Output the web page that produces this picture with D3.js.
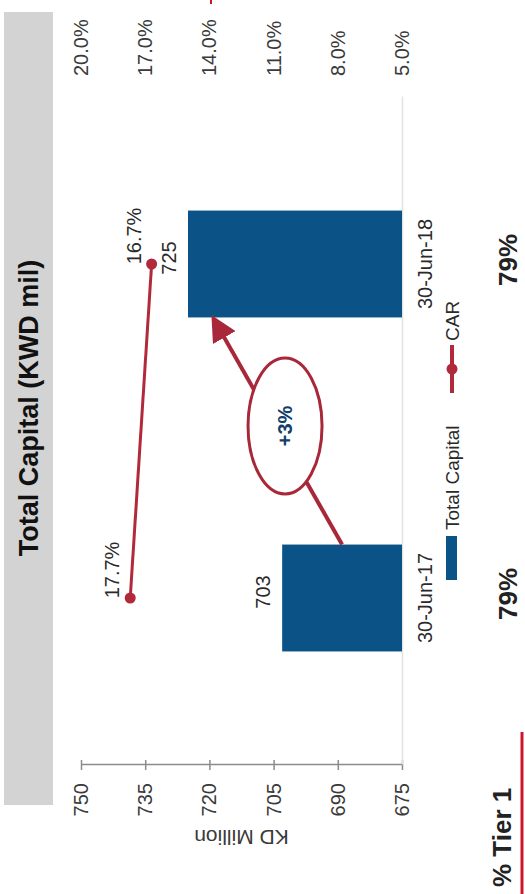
<!DOCTYPE html>
<html>
<head>
<meta charset="utf-8">
<script src="https://cdn.jsdelivr.net/npm/d3@7"></script>
<style>
  body { margin: 0; background: #fff; }
  svg { display: block; font-family: "Liberation Sans", Arial, sans-serif; }
</style>
</head>
<body>
<svg id="chart"></svg>
<script>
const categories = ["30-Jun-17", "30-Jun-18"];
const totalCapital = [703, 725];
const car = [17.7, 16.7];
const tier1 = ["79%", "79%"];
const capitalTicks = [675, 690, 705, 720, 735, 750];
const carTicks = [5, 8, 11, 14, 17, 20];
const growthLabel = "+3%";

// the page shows the chart turned a quarter turn, so draw it flat and rotate
const pageW = 525;
const pageH = 894;

const blue = "#0b5386";
const red = "#b12a3b";

const svg = d3.select("#chart")
  .attr("width", pageW)
  .attr("height", pageH);

const g = svg.append("g")
  .attr("transform", `translate(0, ${pageH}) rotate(-90)`);

//scales
const plotLeft = 129, plotRight = 797, plotTop = 81, plotBottom = 402;

const xScale = d3.scaleBand()
  .domain(categories)
  .range([plotLeft, plotRight])
  .paddingInner(0.68)
  .paddingOuter(0.34);
const yScale = d3.scaleLinear()
  .domain([675, 750])
  .range([plotBottom, plotTop]);
const y2Scale = d3.scaleLinear()
  .domain([5, 20])
  .range([plotBottom, plotTop]);

//title band
g.append("rect")
  .attr("x", 89)
  .attr("y", 4)
  .attr("width", 793)
  .attr("height", 49)
  .attr("fill", "#d3d3d3");
g.append("text")
  .attr("x", 486)
  .attr("y", 38)
  .attr("text-anchor", "middle")
  .style("font-size", "27px")
  .style("font-weight", "bold")
  .attr("fill", "#111")
  .text("Total Capital (KWD mil)");

//axes
const yAxis = d3.axisLeft(yScale)
  .tickValues(capitalTicks)
  .tickSize(0)
  .tickPadding(18);
const yAxisG = g.append("g")
  .attr("transform", `translate(${plotLeft}, 0)`)
  .call(yAxis);
yAxisG.select(".domain").attr("stroke", "#8c8c8c").attr("stroke-width", 1.5);
yAxisG.selectAll(".tick line")
  .attr("x1", -5).attr("x2", 5)
  .attr("stroke", "#8c8c8c").attr("stroke-width", 1.5);
yAxisG.selectAll("text")
  .style("font-size", "20px")
  .attr("fill", "#3a3a3a");

g.append("text")
  .attr("transform", `translate(64, ${(plotTop + plotBottom) / 2}) rotate(-90)`)
  .attr("text-anchor", "middle")
  .style("font-size", "21px")
  .attr("fill", "#3a3a3a")
  .text("KD Million");

const y2Axis = d3.axisRight(y2Scale)
  .tickValues(carTicks)
  .tickFormat((d) => d3.format(".1f")(d) + "%")
  .tickSize(0)
  .tickPadding(21);
const y2AxisG = g.append("g")
  .attr("transform", `translate(${plotRight}, 0)`)
  .call(y2Axis);
y2AxisG.select(".domain").remove();
y2AxisG.selectAll("text")
  .style("font-size", "20px")
  .attr("fill", "#3a3a3a");

const xAxis = d3.axisBottom(xScale)
  .tickSize(0)
  .tickPadding(16);
const xAxisG = g.append("g")
  .attr("transform", `translate(0, ${plotBottom})`)
  .call(xAxis);
xAxisG.select(".domain").attr("stroke", "#e2e2e2").attr("stroke-width", 1.5);
xAxisG.selectAll("text")
  .style("font-size", "20px")
  .attr("fill", "#2a2a2a");

//bars
g.selectAll("rect.bar")
  .data(totalCapital)
  .enter()
  .append("rect")
  .attr("class", "bar")
  .attr("x", (d, i) => xScale(categories[i]))
  .attr("y", (d) => yScale(d))
  .attr("width", xScale.bandwidth())
  .attr("height", (d) => plotBottom - yScale(d))
  .attr("fill", blue);

g.selectAll("text.barLabel")
  .data(totalCapital)
  .enter()
  .append("text")
  .attr("class", "barLabel")
  .attr("x", (d, i) => xScale(categories[i]) + xScale.bandwidth() / 2 + 6)
  .attr("y", (d) => yScale(d) - 12)
  .attr("text-anchor", "middle")
  .style("font-size", "20px")
  .attr("fill", "#2a2a2a")
  .text((d) => d);

//CAR line
const cx = (i) => xScale(categories[i]) + xScale.bandwidth() / 2;
const line = d3.line()
  .x((d, i) => cx(i))
  .y((d) => y2Scale(d));

g.append("path")
  .datum(car)
  .attr("d", line)
  .attr("fill", "none")
  .attr("stroke", red)
  .attr("stroke-width", 3);

g.selectAll("circle.car")
  .data(car)
  .enter()
  .append("circle")
  .attr("class", "car")
  .attr("cx", (d, i) => cx(i))
  .attr("cy", (d) => y2Scale(d))
  .attr("r", 5.5)
  .attr("fill", red);

g.selectAll("text.carLabel")
  .data(car)
  .enter()
  .append("text")
  .attr("class", "carLabel")
  .attr("x", (d, i) => cx(i) + 28)
  .attr("y", (d) => y2Scale(d) - 11)
  .attr("text-anchor", "middle")
  .style("font-size", "20px")
  .attr("fill", "#2a2a2a")
  .text((d) => d.toFixed(1) + "%");

//growth arrow with ellipse
const arrowStart = [xScale(categories[0]) + xScale.bandwidth(), (yScale(totalCapital[0]) + plotBottom) / 2];
const arrowEnd = [xScale(categories[1]) - 2, yScale(totalCapital[1]) + 26];

const defs = svg.append("defs");
defs.append("marker")
  .attr("id", "head")
  .attr("viewBox", "0 0 10 10")
  .attr("refX", 8)
  .attr("refY", 5)
  .attr("markerWidth", 6.5)
  .attr("markerHeight", 6.5)
  .attr("markerUnits", "strokeWidth")
  .attr("orient", "auto")
  .append("path")
  .attr("d", "M0,0 L10,5 L0,10 z")
  .attr("fill", "#a8283a");

g.append("line")
  .attr("x1", arrowStart[0])
  .attr("y1", arrowStart[1])
  .attr("x2", arrowEnd[0])
  .attr("y2", arrowEnd[1])
  .attr("stroke", "#a8283a")
  .attr("stroke-width", 4)
  .attr("marker-end", "url(#head)");

const mid = [(arrowStart[0] + arrowEnd[0]) / 2 + 6, (arrowStart[1] + arrowEnd[1]) / 2 + 7];
g.append("ellipse")
  .attr("cx", mid[0])
  .attr("cy", mid[1])
  .attr("rx", 68)
  .attr("ry", 37)
  .attr("fill", "#fff")
  .attr("stroke", "#a8283a")
  .attr("stroke-width", 3);
g.append("text")
  .attr("x", mid[0])
  .attr("y", mid[1] + 7)
  .attr("text-anchor", "middle")
  .style("font-size", "20px")
  .style("font-weight", "bold")
  .attr("fill", "#12406b")
  .text(growthLabel);

//legend
g.append("rect")
  .attr("x", 314)
  .attr("y", 446)
  .attr("width", 44)
  .attr("height", 11)
  .attr("fill", blue);
g.append("text")
  .attr("x", 364)
  .attr("y", 459)
  .style("font-size", "19px")
  .attr("fill", "#2a2a2a")
  .text("Total Capital");
g.append("line")
  .attr("x1", 501)
  .attr("x2", 549)
  .attr("y1", 452)
  .attr("y2", 452)
  .attr("stroke", red)
  .attr("stroke-width", 4);
g.append("circle")
  .attr("cx", 525)
  .attr("cy", 452)
  .attr("r", 5.5)
  .attr("fill", red);
g.append("text")
  .attr("x", 553)
  .attr("y", 459)
  .style("font-size", "19px")
  .attr("fill", "#2a2a2a")
  .text("CAR");

//tier 1 row
g.append("text")
  .attr("x", 7)
  .attr("y", 511)
  .style("font-size", "26px")
  .style("font-weight", "bold")
  .attr("fill", "#222")
  .text("% Tier 1");
g.selectAll("text.tier")
  .data(tier1)
  .enter()
  .append("text")
  .attr("class", "tier")
  .attr("x", (d, i) => cx(i) + 4)
  .attr("y", 517)
  .attr("text-anchor", "middle")
  .style("font-size", "26px")
  .style("font-weight", "bold")
  .attr("fill", "#222")
  .text((d) => d);

//red edge marks
g.append("line")
  .attr("x1", 0)
  .attr("x2", 162)
  .attr("y1", 522)
  .attr("y2", 522)
  .attr("stroke", "#d2142a")
  .attr("stroke-width", 3);
g.append("line")
  .attr("x1", 890)
  .attr("x2", 894)
  .attr("y1", 211)
  .attr("y2", 211)
  .attr("stroke", "#d2142a")
  .attr("stroke-width", 2);
</script>
</body>
</html>
